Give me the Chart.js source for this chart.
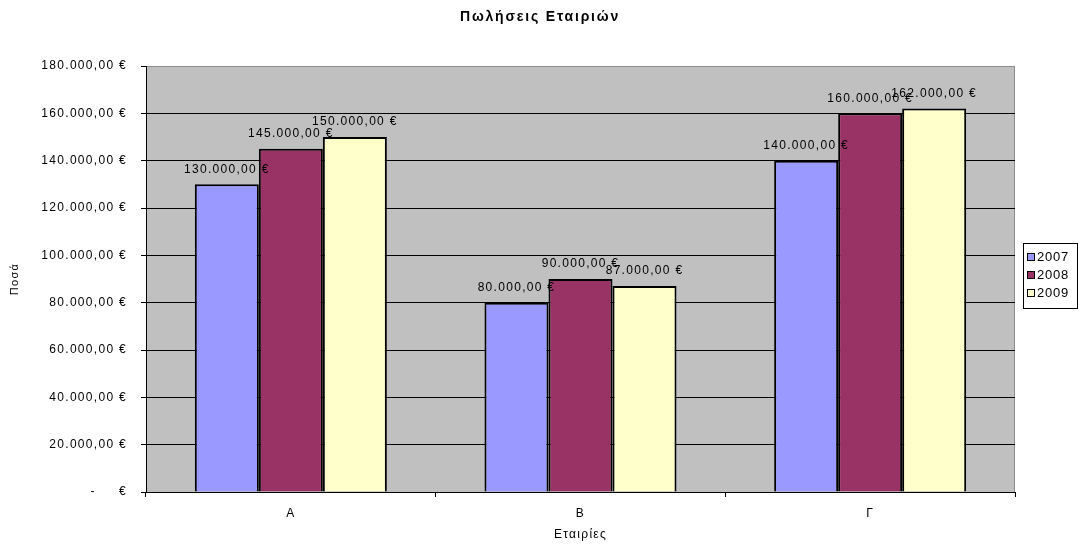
<!DOCTYPE html>
<html>
<head>
<meta charset="utf-8">
<script src="https://cdn.jsdelivr.net/npm/chart.js@4/dist/chart.umd.min.js"></script>
<style>
  html, body { margin: 0; padding: 0; background: #fff; }
  #wrap { width: 1081px; height: 546px; }
</style>
</head>
<body>
<div id="wrap"><canvas id="c" width="1081" height="546"></canvas></div>
<script>
// Sales per company and year
const companies = ['Α', 'Β', 'Γ'];
const years = ['2007', '2008', '2009'];
const sales2007 = [130000, 80000, 140000];
const sales2008 = [145000, 90000, 160000];
const sales2009 = [150000, 87000, 162000];
const yearColors = ['#9999FF', '#993366', '#FFFFCC'];
const chartTitle = 'Πωλήσεις Εταιριών';
const yTitle = 'Ποσά';
const xTitle = 'Εταιρίες';

const FONT = "'Liberation Sans', Arial, sans-serif";
Chart.defaults.font.family = FONT;
Chart.defaults.font.size = 12;
Chart.defaults.color = '#000';

// Greek accounting style currency: 130.000,00 €
function euro(v) {
  if (v === 0) return '-     €';
  const parts = v.toFixed(2).split('.');
  const intPart = parts[0].replace(/\B(?=(\d{3})+(?!\d))/g, '.');
  return intPart + ',' + parts[1] + ' €';
}

function setSpacing(chart) {
  chart.ctx.letterSpacing = '1.3px';
}

const framePlugin = {
  id: 'frame',
  beforeLayout: setSpacing,
  beforeDraw(chart) {
    setSpacing(chart);
    const { ctx, chartArea: a } = chart;
    ctx.save();
    ctx.fillStyle = '#C0C0C0';
    ctx.fillRect(a.left, a.top, a.right - a.left, a.bottom - a.top);
    ctx.strokeStyle = '#8C8C8C';
    ctx.lineWidth = 1;
    ctx.beginPath();
    ctx.moveTo(a.left, a.top + 0.5);
    ctx.lineTo(a.right - 0.5, a.top + 0.5);
    ctx.lineTo(a.right - 0.5, a.bottom);
    ctx.stroke();
    ctx.restore();

    // chart title
    ctx.save();
    ctx.font = 'bold 14px ' + FONT;
    ctx.letterSpacing = '1.8px';
    ctx.fillStyle = '#000';
    ctx.textAlign = 'center';
    ctx.textBaseline = 'middle';
    ctx.fillText(chartTitle, 540, 17);
    ctx.restore();
  },
  afterDatasetsDraw(chart) {
    const { ctx } = chart;
    ctx.save();
    ctx.font = '12px ' + FONT;
    ctx.fillStyle = '#000';
    ctx.textAlign = 'center';
    ctx.textBaseline = 'middle';
    chart.data.datasets.forEach((ds, i) => {
      const meta = chart.getDatasetMeta(i);
      meta.data.forEach((bar, j) => {
        ctx.fillText(euro(ds.data[j]), bar.x, bar.y - 15);
      });
    });
    ctx.restore();
  },
  afterDraw(chart) {
    // legend box on the right
    const { ctx } = chart;
    ctx.save();
    ctx.strokeStyle = '#000';
    ctx.lineWidth = 1;
    ctx.strokeRect(1023.5, 243.5, 54, 65);
    ctx.font = '13px ' + FONT;
    ctx.letterSpacing = '0.8px';
    ctx.textBaseline = 'middle';
    ctx.textAlign = 'left';
    chart.data.datasets.forEach((ds, i) => {
      const cy = 257 + i * 18;
      ctx.fillStyle = ds.backgroundColor;
      ctx.fillRect(1027.5, cy - 3.5, 7, 7);
      ctx.strokeRect(1027.5, cy - 3.5, 7, 7);
      ctx.fillStyle = '#000';
      ctx.fillText(ds.label, 1037, cy);
    });
    ctx.restore();
  }
};

const seriesValues = [sales2007, sales2008, sales2009];

new Chart(document.getElementById('c'), {
  type: 'bar',
  data: {
    labels: companies,
    datasets: years.map((y, i) => ({
      label: y,
      data: seriesValues[i],
      backgroundColor: yearColors[i],
      borderColor: '#000',
      borderWidth: 2,
      borderSkipped: 'bottom',
      categoryPercentage: 0.663,
      barPercentage: 1.0
    }))
  },
  options: {
    responsive: false,
    animation: false,
    layout: { padding: { top: 66, right: 66, bottom: 0, left: 0 } },
    plugins: {
      legend: { display: false },
      title: { display: false },
      tooltip: { enabled: false }
    },
    scales: {
      x: {
        afterFit(scale) { scale.height = 54; },
        grid: {
          offset: true,
          drawOnChartArea: false,
          drawTicks: true,
          tickLength: 5,
          color: '#000'
        },
        border: { color: '#000', width: 1 },
        ticks: { padding: 9, font: { size: 12 } },
        title: {
          display: true,
          text: xTitle,
          font: { size: 12 },
          padding: { top: 0, bottom: 4 }
        }
      },
      y: {
        min: 0,
        max: 180000,
        afterFit(scale) { scale.width = 146; },
        ticks: {
          stepSize: 20000,
          padding: 14,
          font: { size: 12 },
          callback: (v) => euro(v)
        },
        grid: {
          color: (c) => (c.tick && c.tick.value === 180000 ? '#8C8C8C' : '#000'),
          tickColor: '#000',
          tickLength: 5,
          lineWidth: 1
        },
        border: { color: '#000', width: 1 },
        title: {
          display: true,
          text: yTitle,
          font: { size: 11 },
          padding: { top: 8.4, bottom: 0 }
        }
      }
    }
  },
  plugins: [framePlugin]
});
</script>
</body>
</html>
